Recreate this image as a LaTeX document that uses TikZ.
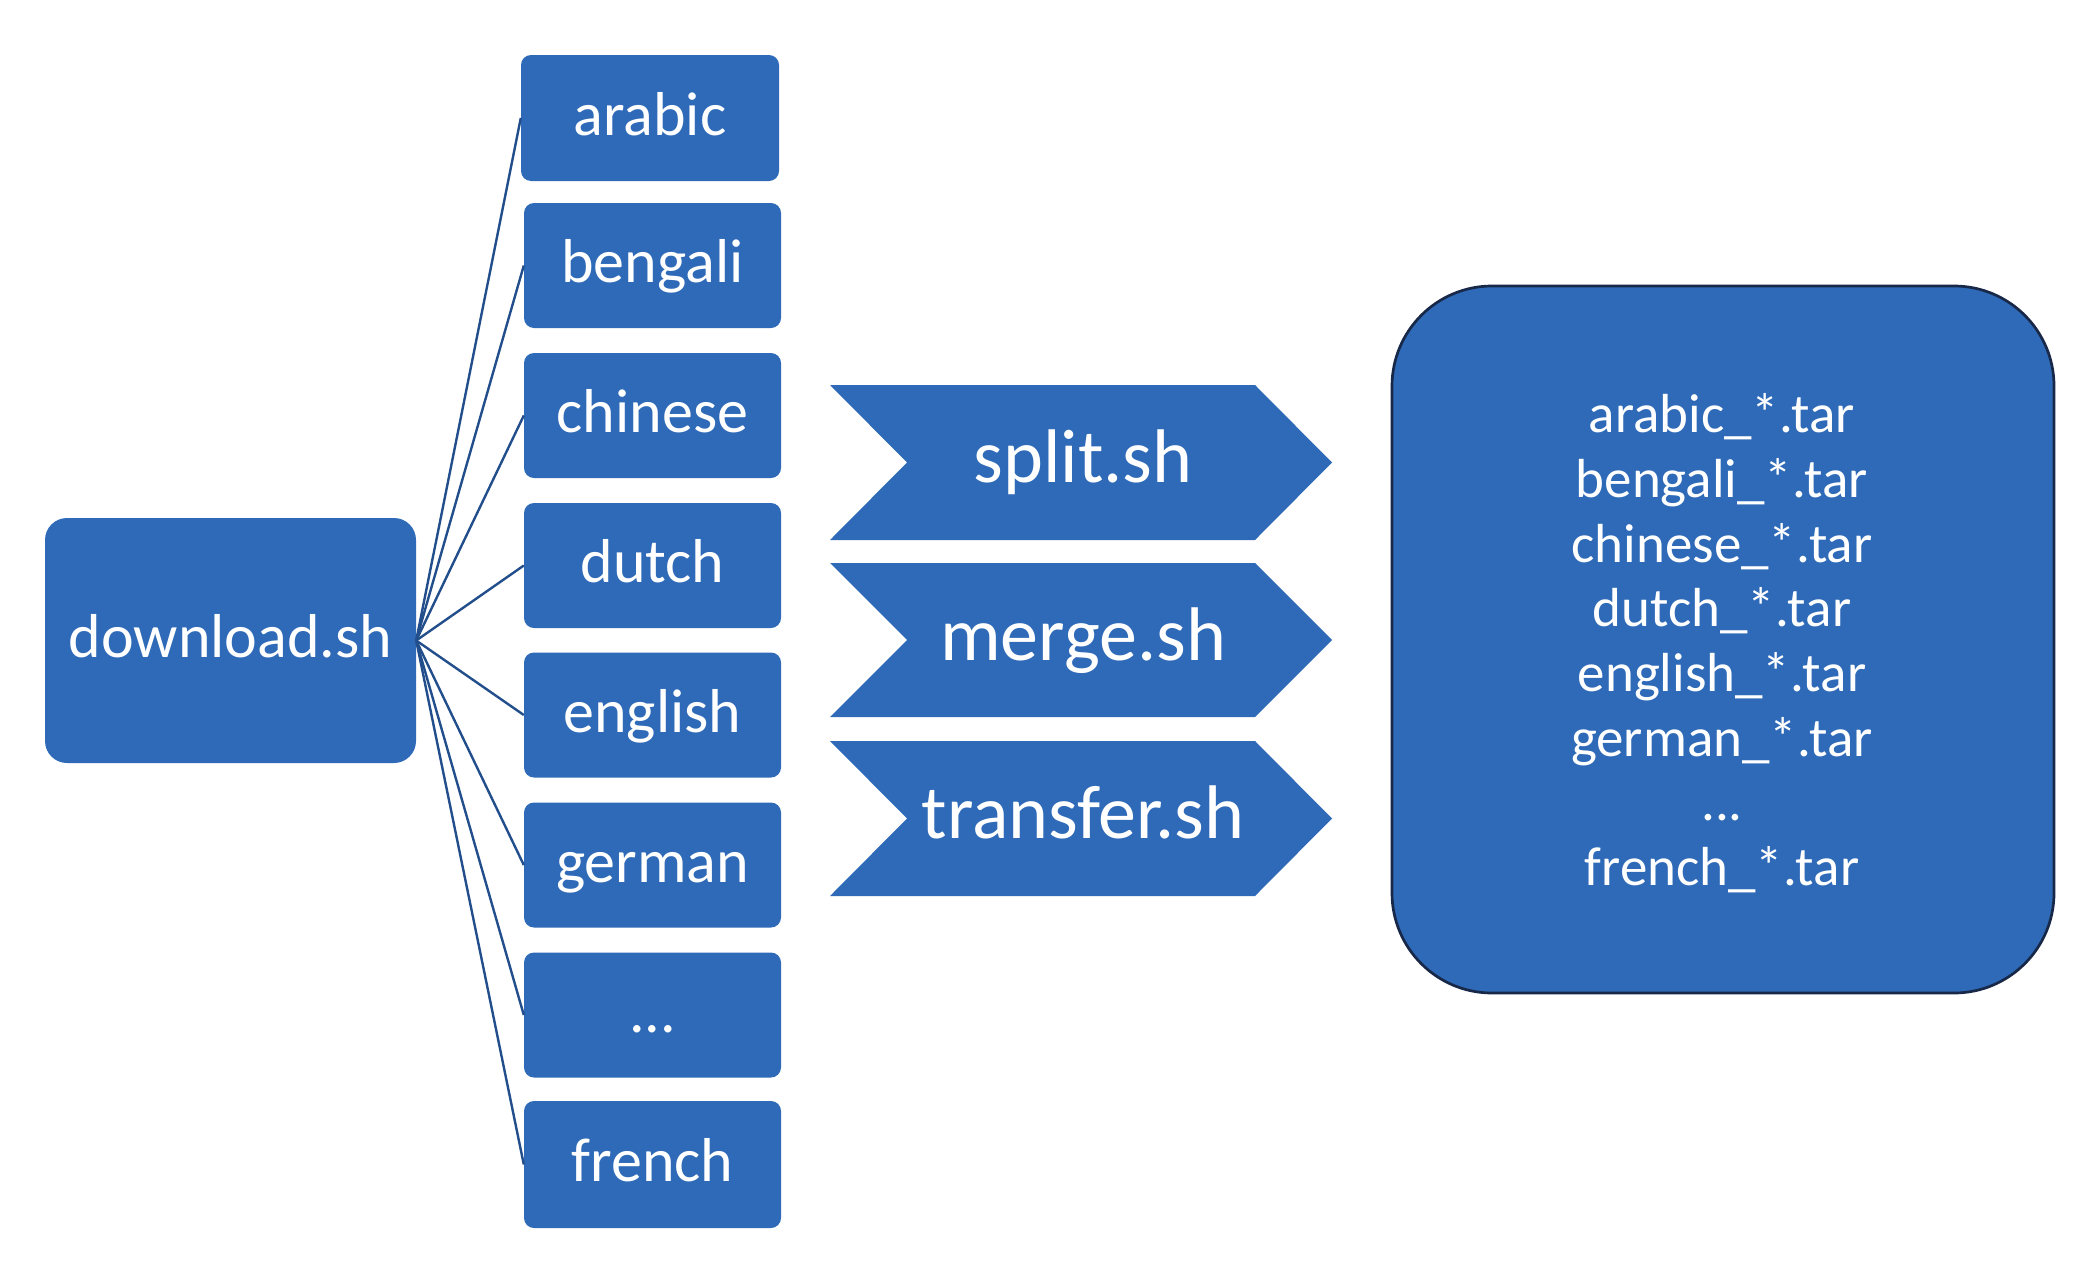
\documentclass[tikz,border=0pt]{standalone}
\usepackage{fontspec}
\setmainfont{Carlito}
\definecolor{boxblue}{RGB}{46,106,184}
\definecolor{linkblue}{RGB}{34,78,140}
\definecolor{navy}{RGB}{24,40,72}
\begin{document}
\begin{tikzpicture}[x=1pt,y=-1pt,
  langbox/.style={fill=boxblue, rounded corners=10pt, text=white,
    font=\fontsize{62}{74}\selectfont, text height=48pt, text depth=14pt,
    minimum width=257pt, minimum height=125pt, inner sep=0pt},
  dlbox/.style={langbox, rounded corners=22pt, minimum width=371pt, minimum height=245pt},
  outbox/.style={fill=boxblue, draw=navy, line width=2.7pt, rounded corners=100pt,
    minimum width=662pt, minimum height=707pt, inner sep=0pt},
  chevron/.style={fill=boxblue},
  chevtext/.style={text=white, font=\fontsize{76}{90}\selectfont,
    text height=57pt, text depth=17pt, inner sep=0pt},
  filetext/.style={text=white, font=\fontsize{55}{64}\selectfont, inner sep=0pt, anchor=base},
  link/.style={draw=linkblue, line width=2.4pt}]
\useasboundingbox (0,0) rectangle (2098,1266);

% download box
\node[dlbox] (dl) at (230.5,640.5) {download.sh};

% language boxes
\node[langbox, minimum width=258pt, minimum height=126pt] (ar) at (650,118) {arabic};
\node[langbox] (bn) at (652.5,265.5) {bengali};
\node[langbox] (zh) at (652.5,415.5) {chinese};
\node[langbox] (nl) at (652.5,565.5) {dutch};
\node[langbox] (en) at (652.5,715) {english};
\node[langbox] (de) at (652.5,865) {german};
\node[langbox] (dots) at (652.5,1015) {...};
\node[langbox, minimum height=127pt] (fr) at (652.5,1164.5) {french};

% connectors
\foreach \t in {ar,bn,zh,nl,en,de,dots,fr}
  \draw[link] (dl.east) -- (\t.west);

% chevrons
\fill[chevron] (830,385) -- (1255,385) -- (1332,462.5) -- (1255,540) -- (830,540) -- (907,462.5) -- cycle;
\node[chevtext] (split) at (1083,462.5) {split.sh};
\fill[chevron] (830,563) -- (1255,563) -- (1332,640) -- (1255,717) -- (830,717) -- (907,640) -- cycle;
\node[chevtext] (merge) at (1083,640) {merge.sh};
\fill[chevron] (830,741) -- (1255,741) -- (1332,818.5) -- (1255,896) -- (830,896) -- (907,818.5) -- cycle;
\node[chevtext] (transfer) at (1083,818.5) {transfer.sh};

% output box
\node[outbox] (out) at (1723,639.5) {};
\node[filetext] (f1) at (1722,432.7) {arabic\_*.tar};
\node[filetext] (f2) at (1722,497.4) {bengali\_*.tar};
\node[filetext] (f3) at (1722,562.1) {chinese\_*.tar};
\node[filetext] (f4) at (1722,626.8) {dutch\_*.tar};
\node[filetext] (f5) at (1722,691.5) {english\_*.tar};
\node[filetext] (f6) at (1722,756.2) {german\_*.tar};
\node[filetext] (f7) at (1722,820.9) {...};
\node[filetext] (f8) at (1722,885.6) {french\_*.tar};
\end{tikzpicture}
\end{document}
